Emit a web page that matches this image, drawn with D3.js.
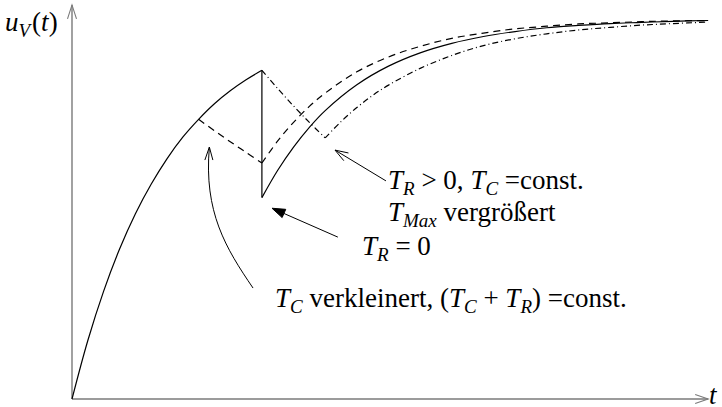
<!DOCTYPE html>
<html>
<head>
<meta charset="utf-8">
<script src="https://cdn.jsdelivr.net/npm/d3@7"></script>
<style>
  html, body { margin: 0; padding: 0; background: #fff; }
  svg { display: block; }
</style>
</head>
<body>
<svg id="chart" width="722" height="407"></svg>
<script>
// Charging of the capacitor voltage u_V(t): common charging phase
const tCharge = [0, 0.25, 0.5, 0.75, 1, 1.25, 1.5, 1.75, 2, 2.25, 2.5, 2.75, 3];
const uCharge = [0, 0.154, 0.284, 0.394, 0.487, 0.565, 0.632, 0.689, 0.736, 0.777, 0.811, 0.840, 0.865];

// T_R = 0: instantaneous drop at t = 3, then recharging
const tDrop = [3, 3];
const uDrop = [0.865, 0.530];
const tRecover = [3, 3.25, 3.5, 3.75, 4, 4.5, 5, 5.5, 6, 6.5, 7, 7.5, 8, 8.5, 9, 9.5, 10.05];
const uSolidRecover = [0.530, 0.602, 0.663, 0.715, 0.759, 0.827, 0.876, 0.911, 0.936, 0.954, 0.967, 0.977, 0.983, 0.988, 0.991, 0.994, 0.996];

// T_C reduced, (T_C + T_R) constant: discharge from t = 2 to t = 3, then recharging
const tDashFall = [2, 2.25, 2.5, 2.75, 3];
const uDashFall = [0.736, 0.706, 0.677, 0.649, 0.621];
const uDashRecover = [0.621, 0.679, 0.728, 0.770, 0.805, 0.861, 0.900, 0.928, 0.949, 0.963, 0.974, 0.981, 0.987, 0.990, 0.993, 0.995, 0.996];

// T_R > 0, T_C constant: discharge from t = 3 to t = 4, then recharging
const tDotFall = [3, 3.25, 3.5, 3.75, 4];
const uDotFall = [0.865, 0.817, 0.771, 0.728, 0.687];
const tDotRecover = [4, 4.25, 4.5, 4.75, 5, 5.5, 6, 6.5, 7, 7.5, 8, 8.5, 9, 9.5, 10.05];
const uDotRecover = [0.687, 0.730, 0.767, 0.799, 0.826, 0.870, 0.904, 0.930, 0.948, 0.961, 0.971, 0.978, 0.984, 0.988, 0.992];

// Axis extents and labels
const tAxisMax = 10.05;
const uAxisMax = 1.037;
const yAxisLabel = { base: "u", sub: "V" };
const xAxisLabel = "t";

const serif = '"Liberation Serif"';
const svg = d3.select("#chart");
const x = d3.scaleLinear().domain([0, 10]).range([72, 705]);
const y = d3.scaleLinear().domain([0, 1]).range([399, 19]);

const zip = (ts, us) => ts.map((t, i) => [t, us[i]]);
const smooth = d3.line().x(d => x(d[0])).y(d => y(d[1])).curve(d3.curveCatmullRom.alpha(0.5));
const straight = d3.line().x(d => x(d[0])).y(d => y(d[1]));

// Axes
const axisColor = "#7a7a7a";
const ax = svg.append("g").attr("stroke", axisColor).attr("stroke-width", 1.4).attr("fill", "none");
ax.append("line").attr("x1", x(0)).attr("y1", y(0)).attr("x2", x(tAxisMax)).attr("y2", y(0));
ax.append("line").attr("x1", x(0)).attr("y1", y(0)).attr("x2", x(0)).attr("y2", y(uAxisMax));
ax.append("path").attr("stroke-width", 1.1)
  .attr("d", `M${x(tAxisMax) - 13},${y(0) - 4.5}L${x(tAxisMax)},${y(0)}L${x(tAxisMax) - 13},${y(0) + 4.5}`);
ax.append("path").attr("stroke-width", 1.1)
  .attr("d", `M${x(0) - 4.5},${y(uAxisMax) + 14}L${x(0)},${y(uAxisMax)}L${x(0) + 4.5},${y(uAxisMax) + 14}`);

// Curves (each piece drawn separately so the switching corners stay sharp)
const curves = svg.append("g").attr("fill", "none").attr("stroke", "#000").attr("stroke-width", 1.2);
curves.append("path").attr("d", smooth(zip(tCharge, uCharge)));
curves.append("path").attr("d", straight(zip(tDrop, uDrop)));
curves.append("path").attr("d", smooth(zip(tRecover, uSolidRecover)));

curves.append("path").attr("stroke-dasharray", "7,5").attr("d", smooth(zip(tDashFall, uDashFall)));
curves.append("path").attr("stroke-dasharray", "7,5").attr("d", smooth(zip(tRecover, uDashRecover)));
curves.append("path").attr("stroke-dasharray", "6,3,1,3").attr("d", smooth(zip(tDotFall, uDotFall)));
curves.append("path").attr("stroke-dasharray", "6,3,1,3").attr("d", smooth(zip(tDotRecover, uDotRecover)));

// Text helper: parts are { s, i (italic), sub (subscript) }
const fs = 27, fsSub = 19, subShift = 6;
function mathText(px, py, parts) {
  const el = svg.append("text").attr("x", px).attr("y", py).attr("font-size", fs)
    .style("font-family", serif).attr("fill", "#000");
  let shifted = false;
  parts.forEach(p => {
    const ts = el.append("tspan").style("font-family", serif).text(p.s);
    if (p.i) ts.attr("font-style", "italic");
    if (p.dx) ts.attr("dx", p.dx);
    if (p.sub) {
      ts.attr("font-size", fsSub).attr("dy", subShift);
      shifted = true;
    } else if (shifted) {
      ts.attr("dy", -subShift);
      shifted = false;
    }
  });
  return el;
}

// Axis labels
mathText(5, 31, [{ s: yAxisLabel.base, i: 1 }, { s: yAxisLabel.sub, i: 1, sub: 1 }, { s: "(", dx: 2 }, { s: "t", i: 1 }, { s: ")" }]);
mathText(709, 404, [{ s: xAxisLabel, i: 1 }]);

// Annotations
mathText(388, 189, [{ s: "T", i: 1 }, { s: "R", i: 1, sub: 1 }, { s: " > 0, " }, { s: "T", i: 1 },
  { s: "C", i: 1, sub: 1 }, { s: " =const." }]);
mathText(388, 221, [{ s: "T", i: 1 }, { s: "Max", i: 1, sub: 1 }, { s: " vergrößert" }]);
mathText(362, 255, [{ s: "T", i: 1 }, { s: "R", i: 1, sub: 1 }, { s: " = 0" }]);
mathText(275, 307, [{ s: "T", i: 1 }, { s: "C", i: 1, sub: 1 }, { s: " verkleinert, (" }, { s: "T", i: 1 },
  { s: "C", i: 1, sub: 1 }, { s: " + " }, { s: "T", i: 1 }, { s: "R", i: 1, sub: 1 }, { s: ") =const." }]);

// Annotation arrows, anchored in data coordinates
const ann = svg.append("g").attr("stroke", "#000").attr("stroke-width", 1).attr("fill", "none");

// Curved arrow pointing at the reduced-T_C discharge
const a1 = { from: [2.86, 0.292], c1: [2.43, 0.397], c2: [2.08, 0.492], to: [2.17, 0.663] };
ann.append("path").attr("d",
  `M${x(a1.from[0])},${y(a1.from[1])}C${x(a1.c1[0])},${y(a1.c1[1])} ${x(a1.c2[0])},${y(a1.c2[1])} ${x(a1.to[0])},${y(a1.to[1])}`);
{
  const tx = x(a1.to[0]), ty = y(a1.to[1]);
  ann.append("path").attr("d", `M${tx - 4.5},${ty + 13}L${tx},${ty}L${tx + 3.5},${ty + 13}`);
}

// Straight arrows: filled head for T_R = 0, open head for T_R > 0
function arrow(from, to, filled) {
  const x1 = x(from[0]), y1 = y(from[1]), x2 = x(to[0]), y2 = y(to[1]);
  const ang = Math.atan2(y2 - y1, x2 - x1);
  const len = 13, w = 4.5;
  const bx = x2 - len * Math.cos(ang), by = y2 - len * Math.sin(ang);
  const px = -Math.sin(ang) * w, py = Math.cos(ang) * w;
  ann.append("line").attr("x1", x1).attr("y1", y1).attr("x2", filled ? bx : x2).attr("y2", filled ? by : y2);
  const head = ann.append("path")
    .attr("d", `M${bx + px},${by + py}L${x2},${y2}L${bx - px},${by - py}` + (filled ? "Z" : ""));
  if (filled) head.attr("fill", "#000");
}
arrow([4.2, 0.426], [3.16, 0.502], true);
arrow([4.96, 0.574], [4.155, 0.655], false);
</script>
</body>
</html>
